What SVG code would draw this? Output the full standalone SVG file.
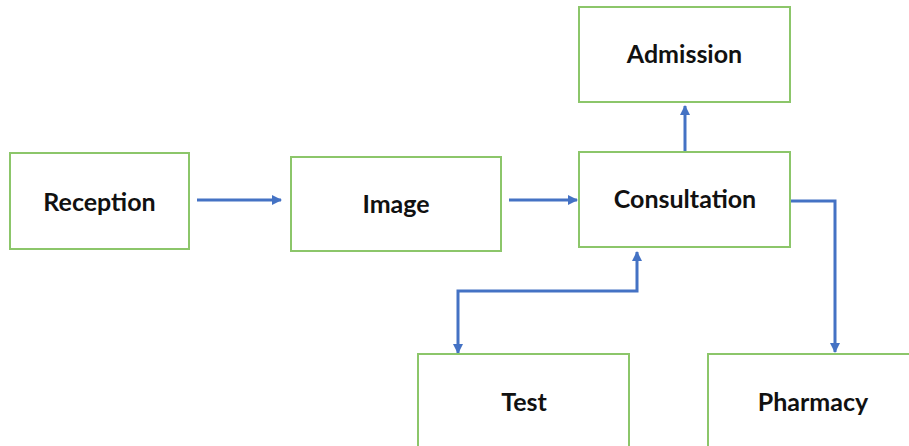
<svg xmlns="http://www.w3.org/2000/svg" width="909" height="446" viewBox="0 0 909 446">
  <style>
    .box { fill: #ffffff; stroke: #8cc66a; stroke-width: 2; }
    .label { font-family: Lato, "Open Sans", "Liberation Sans", sans-serif; font-weight: bold; font-size: 25px; fill: #111111; text-anchor: middle; }
    .link { fill: none; stroke: #4472c4; stroke-width: 3; }
  </style>
  <defs>
    <marker id="arrow" viewBox="0 0 10 10" refX="9" refY="5" markerWidth="3.4" markerHeight="3.4" orient="auto-start-reverse" markerUnits="strokeWidth">
      <path d="M0,0 L10,5 L0,10 z" fill="#4472c4"/>
    </marker>
  </defs>
  <rect width="909" height="446" fill="#ffffff"/>

  <g id="connectors">
    <path class="link" d="M197,200 H281" marker-end="url(#arrow)"/>
    <path class="link" d="M509,200 H577" marker-end="url(#arrow)"/>
    <path class="link" d="M685,152 V106" marker-end="url(#arrow)"/>
    <path class="link" d="M790,201 H835 V352" marker-end="url(#arrow)"/>
    <path class="link" d="M637,252 V291 H458 V353" marker-start="url(#arrow)" marker-end="url(#arrow)"/>
  </g>

  <g id="reception">
    <rect class="box" x="10" y="153" width="179" height="96"/>
    <text class="label" x="99.5" y="211">Reception</text>
  </g>
  <g id="image">
    <rect class="box" x="291" y="157" width="210" height="94"/>
    <text class="label" x="396" y="213">Image</text>
  </g>
  <g id="consultation">
    <rect class="box" x="579" y="152" width="211" height="95"/>
    <text class="label" x="685" y="208">Consultation</text>
  </g>
  <g id="admission">
    <rect class="box" x="579" y="7" width="211" height="95"/>
    <text class="label" x="684.5" y="63">Admission</text>
  </g>
  <g id="test">
    <rect class="box" x="418" y="354" width="211" height="100"/>
    <text class="label" x="524" y="411">Test</text>
  </g>
  <g id="pharmacy">
    <rect class="box" x="708" y="354" width="211" height="100"/>
    <text class="label" x="813" y="411">Pharmacy</text>
  </g>
</svg>
